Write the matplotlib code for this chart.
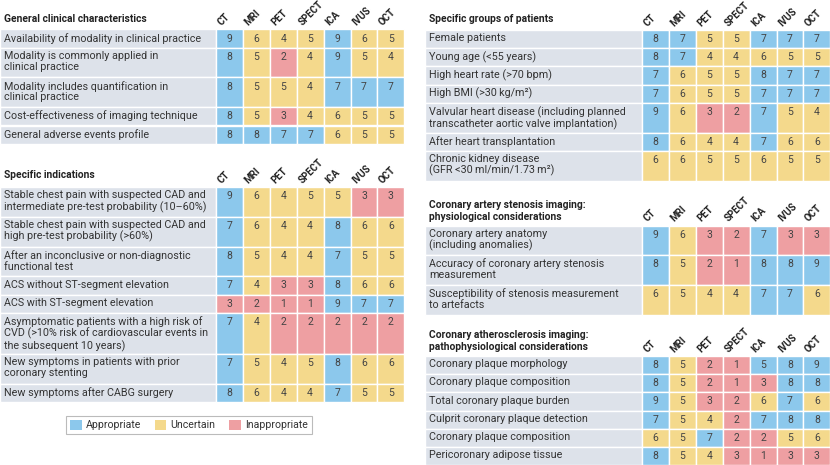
import matplotlib.pyplot as plt
from matplotlib.patches import Rectangle, Patch

plt.rcParams['font.family'] = ['Roboto', 'DejaVu Sans']

modalities = ['CT', 'MRI', 'PET', 'SPECT', 'ICA', 'IVUS', 'OCT']

general_title = 'General clinical characteristics'
general_rows = [
    'Availability of modality in clinical practice',
    'Modality is commonly applied in\nclinical practice',
    'Modality includes quantification in\nclinical practice',
    'Cost-effectiveness of imaging technique',
    'General adverse events profile',
]
general_scores = [
    [9, 6, 4, 5, 9, 6, 5],
    [8, 5, 2, 4, 9, 5, 4],
    [8, 5, 5, 4, 7, 7, 7],
    [8, 5, 3, 4, 6, 5, 5],
    [8, 8, 7, 7, 6, 5, 5],
]

indications_title = 'Specific indications'
indications_rows = [
    'Stable chest pain with suspected CAD and\nintermediate pre-test probability (10\u201360%)',
    'Stable chest pain with suspected CAD and\nhigh pre-test probability (>60%)',
    'After an inconclusive or non-diagnostic\nfunctional test',
    'ACS without ST-segment elevation',
    'ACS with ST-segment elevation',
    'Asymptomatic patients with a high risk of\nCVD (>10% risk of cardiovascular events in\nthe subsequent 10 years)',
    'New symptoms in patients with prior\ncoronary stenting',
    'New symptoms after CABG surgery',
]
indications_scores = [
    [9, 6, 4, 5, 5, 3, 3],
    [7, 6, 4, 4, 8, 6, 6],
    [8, 5, 4, 4, 7, 5, 5],
    [7, 4, 3, 3, 8, 6, 6],
    [3, 2, 1, 1, 9, 7, 7],
    [7, 4, 2, 2, 2, 2, 2],
    [7, 5, 4, 5, 8, 6, 6],
    [8, 6, 4, 4, 7, 5, 5],
]

groups_title = 'Specific groups of patients'
groups_rows = [
    'Female patients',
    'Young age (<55 years)',
    'High heart rate (>70 bpm)',
    'High BMI (>30\u2009kg/m\u00b2)',
    'Valvular heart disease (including planned\ntranscatheter aortic valve implantation)',
    'After heart transplantation',
    'Chronic kidney disease\n(GFR <30\u2009ml/min/1.73\u2009m\u00b2)',
]
groups_scores = [
    [8, 7, 5, 5, 7, 7, 7],
    [8, 7, 4, 4, 6, 5, 5],
    [7, 6, 5, 5, 8, 7, 7],
    [7, 6, 5, 5, 7, 7, 7],
    [9, 6, 3, 2, 7, 5, 4],
    [8, 6, 4, 4, 7, 6, 6],
    [6, 6, 5, 5, 6, 5, 5],
]

stenosis_title = 'Coronary artery stenosis imaging:\nphysiological considerations'
stenosis_rows = [
    'Coronary artery anatomy\n(including anomalies)',
    'Accuracy of coronary artery stenosis\nmeasurement',
    'Susceptibility of stenosis measurement\nto artefacts',
]
stenosis_scores = [
    [9, 6, 3, 2, 7, 3, 3],
    [8, 5, 2, 1, 8, 8, 9],
    [6, 5, 4, 4, 7, 7, 6],
]

plaque_title = 'Coronary atherosclerosis imaging:\npathophysiological considerations'
plaque_rows = [
    'Coronary plaque morphology',
    'Coronary plaque composition',
    'Total coronary plaque burden',
    'Culprit coronary plaque detection',
    'Coronary plaque composition',
    'Pericoronary adipose tissue',
]
plaque_scores = [
    [8, 5, 2, 1, 5, 8, 9],
    [8, 5, 2, 1, 3, 8, 8],
    [9, 5, 3, 2, 6, 7, 6],
    [7, 5, 4, 2, 7, 8, 8],
    [6, 5, 7, 2, 2, 5, 6],
    [8, 5, 4, 3, 1, 3, 3],
]

# ICA plaque morphology is rated appropriate although it scores 5
overrides = {('plaque', 0, 4): 'Appropriate'}

categories = ['Appropriate', 'Uncertain', 'Inappropriate']
colors = {'Appropriate': '#8cc8ec', 'Uncertain': '#f4d98c', 'Inappropriate': '#ee9fa2'}
LABEL_BG = '#dde2ea'
TEXT = '#333333'


def category(score):
    if score >= 7:
        return 'Appropriate'
    if score >= 4:
        return 'Uncertain'
    return 'Inappropriate'


fig = plt.figure(figsize=(8.3, 4.65), dpi=100)
ax = fig.add_axes([0, 0, 1, 1])
ax.set_xlim(0, 830)
ax.set_ylim(465, 0)
ax.axis('off')

CW = 26.9


def draw_table(key, title, rows, scores, x0, cx0, top, title_y):
    ax.text(x0 + 4, title_y, title, fontsize=7.4, fontweight='bold', color='#222222',
            va='center', ha='left', linespacing=1.2)
    for i, m in enumerate(modalities):
        ax.text(cx0 + i * CW + 7, top - 2, m, rotation=45, rotation_mode='anchor',
                ha='left', va='bottom', fontsize=7.0, fontweight='semibold', color='#222222')
    y = top
    for r, (label, vals) in enumerate(zip(rows, scores)):
        n = label.count('\n') + 1
        h = 6.6 + 11.6 * n
        ax.add_patch(Rectangle((x0, y), cx0 - x0, h, facecolor=LABEL_BG,
                               edgecolor='white', lw=1.0))
        ax.text(x0 + 4, y + 3.2, label, fontsize=7.75, color=TEXT, va='top', ha='left',
                linespacing=1.1)
        for c, v in enumerate(vals):
            cat = overrides.get((key, r, c), category(v))
            ax.add_patch(Rectangle((cx0 + c * CW, y), CW, h, facecolor=colors[cat],
                                   edgecolor='white', lw=1.0))
            ax.text(cx0 + c * CW + CW / 2, y + 9, str(v), fontsize=7.5, color='#444444',
                    ha='center', va='center')
        y += h


draw_table('general', general_title, general_rows, general_scores, 0, 216, 29.5, 19)
draw_table('indications', indications_title, indications_rows, indications_scores, 0, 216, 187, 175)
draw_table('groups', groups_title, groups_rows, groups_scores, 425, 642, 30, 19)
draw_table('stenosis', stenosis_title, stenosis_rows, stenosis_scores, 425, 642, 225.5, 211)
draw_table('plaque', plaque_title, plaque_rows, plaque_scores, 425, 642, 356, 341)

handles = [Patch(facecolor=colors[c], edgecolor='none', label=c) for c in categories]
leg = ax.legend(handles=handles, loc='center', bbox_to_anchor=(189, 425),
                bbox_transform=ax.transData, ncol=3, fontsize=7.6, frameon=True,
                fancybox=False, edgecolor='#aaaaaa', handlelength=1.1, handleheight=1.1,
                handletextpad=0.4, columnspacing=1.3, borderpad=0.35)
leg.get_frame().set_linewidth(0.8)
for t in leg.get_texts():
    t.set_color(TEXT)

fig.savefig('out.png', dpi=100)
